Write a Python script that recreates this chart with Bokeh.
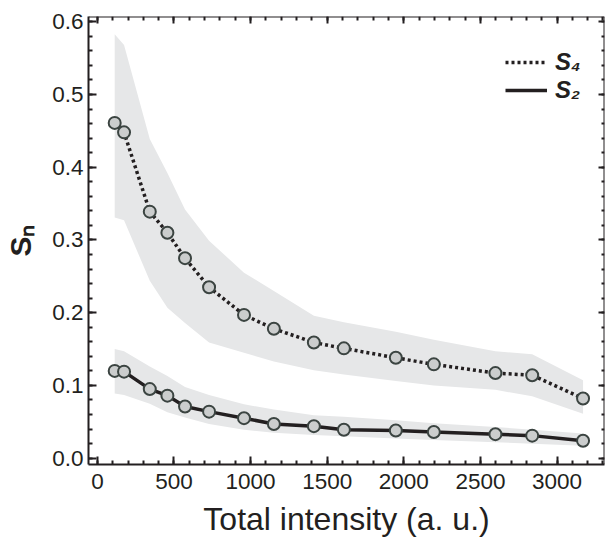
from bokeh.plotting import figure
from bokeh.models import (LinearAxis, Range1d, Legend, LegendItem,
                          NumeralTickFormatter, SingleIntervalTicker)
from bokeh.embed import file_html
from bokeh.resources import INLINE

# ---- data ----
intensity = [113, 174, 342, 457, 572, 729, 957, 1152, 1413, 1609, 1948, 2196, 2598, 2838, 3170]
s4 = [0.461, 0.448, 0.339, 0.310, 0.275, 0.235, 0.197, 0.178, 0.159, 0.151, 0.138, 0.129, 0.117, 0.114, 0.082]
s4_upper = [0.583, 0.568, 0.439, 0.392, 0.342, 0.299, 0.255, 0.230, 0.196, 0.187, 0.174, 0.163, 0.147, 0.143, 0.107]
s4_lower = [0.331, 0.327, 0.244, 0.207, 0.186, 0.159, 0.145, 0.133, 0.121, 0.115, 0.106, 0.100, 0.094, 0.085, 0.061]
s2 = [0.120, 0.119, 0.095, 0.086, 0.071, 0.064, 0.055, 0.047, 0.044, 0.039, 0.038, 0.036, 0.033, 0.031, 0.024]
s2_upper = [0.150, 0.147, 0.126, 0.113, 0.098, 0.087, 0.074, 0.067, 0.059, 0.057, 0.052, 0.048, 0.043, 0.039, 0.034]
s2_lower = [0.089, 0.087, 0.075, 0.063, 0.056, 0.047, 0.039, 0.035, 0.032, 0.030, 0.027, 0.025, 0.022, 0.020, 0.017]

x_label = "Total intensity (a. u.)"
y_label = "S\u2099"
legend_labels = ["S\u2084", "S\u2082"]

FONT = "Liberation Sans"
INK = "#231f20"
BAND = "#e6e7e8"
PT_FILL = "#cbcdcd"
PT_LINE = "#3b4441"

X0, X1 = -58, 3310
Y0, Y1 = -0.0087, 0.6073

p = figure(frame_width=516, frame_height=448,
           x_range=Range1d(X0, X1), y_range=Range1d(Y0, Y1),
           output_backend="svg", toolbar_location=None,
           min_border_left=88, min_border_top=16, min_border_right=1, min_border_bottom=60,
           background_fill_color="white", border_fill_color="white")
p.xgrid.grid_line_color = None
p.ygrid.grid_line_color = None
p.outline_line_color = None

# bands
p.varea(x=intensity, y1=s4_lower, y2=s4_upper, fill_color=BAND)
p.varea(x=intensity, y1=s2_lower, y2=s2_upper, fill_color=BAND)

# lines
r4 = p.line(intensity, s4, line_color=INK, line_width=3.5, line_dash="3 3")
r2 = p.line(intensity, s2, line_color=INK, line_width=3.5)

# points
p.scatter(intensity, s4, size=12, fill_color=PT_FILL, line_color=PT_LINE, line_width=2)
p.scatter(intensity, s2, size=12, fill_color=PT_FILL, line_color=PT_LINE, line_width=2)

# axes
xt = SingleIntervalTicker(interval=500, num_minor_ticks=5)
yt = SingleIntervalTicker(interval=0.1, num_minor_ticks=5)

def style(ax, labels=True):
    ax.axis_line_width = 2
    ax.axis_line_color = INK
    ax.major_tick_line_color = INK
    ax.minor_tick_line_color = INK
    ax.major_tick_line_width = 2
    ax.minor_tick_line_width = 2
    ax.major_tick_out = 0
    ax.minor_tick_out = 0
    ax.major_tick_in = 8
    ax.minor_tick_in = 4
    if labels:
        ax.major_label_text_font = FONT
        ax.major_label_text_font_size = "22.5px"
        ax.major_label_text_color = INK
    else:
        ax.major_label_text_font_size = "1px"
        ax.major_label_text_color = None
        ax.major_label_standoff = 0

xa = p.xaxis[0]
xa.ticker = xt
style(xa)
xa.major_label_standoff = 9
xa.axis_label = x_label
xa.axis_label_text_font = FONT
xa.axis_label_text_font_size = "32px"
xa.axis_label_text_font_style = "normal"
xa.axis_label_text_color = INK
xa.axis_label_standoff = 9

ya = p.yaxis[0]
ya.ticker = yt
style(ya)
ya.formatter = NumeralTickFormatter(format="0.0")
ya.major_label_standoff = 5
ya.axis_label = y_label
ya.axis_label_text_font = FONT
ya.axis_label_text_font_size = "30px"
ya.axis_label_text_font_style = "bold"
ya.axis_label_text_color = INK
ya.axis_label_standoff = 12

# closing axes on top and right, pinned to the frame edges (take no border space)
top = LinearAxis(ticker=xt, fixed_location=Y1)
style(top, labels=False)
top.major_tick_in = 7
p.add_layout(top, "above")

right = LinearAxis(ticker=yt, fixed_location=X1)
style(right, labels=False)
right.major_tick_in = 6
right.minor_tick_in = 3
p.add_layout(right, "right")

legend = Legend(items=[LegendItem(label=legend_labels[0], renderers=[r4]),
                       LegendItem(label=legend_labels[1], renderers=[r2])],
                location=(417, 360), orientation="vertical",
                glyph_width=42, glyph_height=20, label_height=20, label_standoff=8,
                spacing=0, padding=0, margin=0,
                label_text_font=FONT, label_text_font_size="24px",
                label_text_font_style="bold italic", label_text_color=INK,
                border_line_color=None, background_fill_alpha=0)
p.add_layout(legend, "center")

open("out.html", "w").write(file_html(p, INLINE))
